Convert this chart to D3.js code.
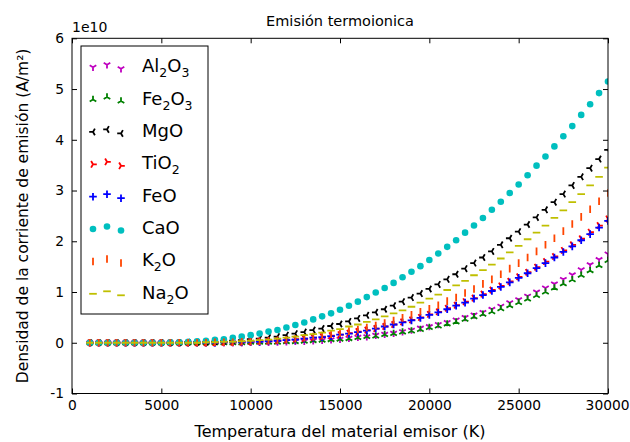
<!DOCTYPE html>
<html>
<head>
<meta charset="utf-8">
<script src="https://cdn.jsdelivr.net/npm/d3@7"></script>
<style>
body { margin: 0; background: #fff; }
svg { display: block; font-family: "DejaVu Sans", sans-serif; }
</style>
</head>
<body>
<svg></svg>
<script>
// Thermionic emission current density vs temperature (values in units of 1e10 A/m^2)

var temps = [1000, 1500, 2000, 2500, 3000, 3500, 4000, 4500, 5000, 5500,
    6000, 6500, 7000, 7500, 8000, 8500, 9000, 9500, 10000, 10500,
    11000, 11500, 12000, 12500, 13000, 13500, 14000, 14500, 15000, 15500,
    16000, 16500, 17000, 17500, 18000, 18500, 19000, 19500, 20000, 20500,
    21000, 21500, 22000, 22500, 23000, 23500, 24000, 24500, 25000, 25500,
    26000, 26500, 27000, 27500, 28000, 28500, 29000, 29500, 30000]

var al2o3 = [0, 0, 0, 0, 0, 0, 0, 0, 0, 0, 0, 0, 0, 0, 0, 0, 0, 0,
    0.01, 0.01, 0.01, 0.015, 0.02, 0.03, 0.03, 0.04, 0.05, 0.06, 0.07, 0.09,
    0.11, 0.12, 0.15, 0.17, 0.19, 0.22, 0.25, 0.29, 0.32, 0.36,
    0.40, 0.45, 0.50, 0.55, 0.60, 0.66, 0.72, 0.79, 0.85, 0.92,
    1.00, 1.08, 1.16, 1.25, 1.34, 1.44, 1.54, 1.64, 1.75]
var fe2o3 = [0, 0, 0, 0, 0, 0, 0, 0, 0, 0, 0, 0, 0, 0, 0, 0, 0, 0,
    0.01, 0.01, 0.01, 0.01, 0.02, 0.02, 0.03, 0.04, 0.05, 0.06, 0.07, 0.08,
    0.10, 0.12, 0.13, 0.16, 0.18, 0.21, 0.23, 0.26, 0.30, 0.33,
    0.37, 0.41, 0.46, 0.51, 0.56, 0.61, 0.67, 0.73, 0.79, 0.86,
    0.93, 1.00, 1.08, 1.16, 1.24, 1.33, 1.42, 1.52, 1.62]
var mgo = [0, 0, 0, 0, 0, 0, 0, 0, 0, 0, 0, 0.01, 0.01, 0.01, 0.02, 0.03, 0.04, 0.05,
    0.07, 0.08, 0.10, 0.12, 0.15, 0.18, 0.21, 0.25, 0.28, 0.33, 0.37, 0.42,
    0.48, 0.54, 0.60, 0.66, 0.73, 0.81, 0.89, 0.97, 1.06, 1.15,
    1.25, 1.35, 1.46, 1.57, 1.68, 1.80, 1.93, 2.06, 2.19, 2.33,
    2.47, 2.62, 2.77, 2.93, 3.10, 3.27, 3.44, 3.62, 3.80]
var tio2 = [0, 0, 0, 0, 0, 0, 0, 0, 0, 0, 0, 0, 0, 0, 0, 0.01, 0.01, 0.01,
    0.02, 0.03, 0.03, 0.04, 0.05, 0.07, 0.08, 0.10, 0.12, 0.14, 0.16, 0.19,
    0.22, 0.25, 0.28, 0.32, 0.36, 0.41, 0.45, 0.50, 0.56, 0.61,
    0.68, 0.74, 0.81, 0.88, 0.96, 1.04, 1.12, 1.21, 1.30, 1.39,
    1.49, 1.60, 1.70, 1.82, 1.93, 2.05, 2.18, 2.31, 2.44]
var feo = [0, 0, 0, 0, 0, 0, 0, 0, 0, 0, 0, 0, 0, 0, 0, 0.01, 0.01, 0.01,
    0.02, 0.02, 0.03, 0.04, 0.05, 0.06, 0.08, 0.10, 0.11, 0.13, 0.16, 0.18,
    0.21, 0.24, 0.28, 0.32, 0.36, 0.40, 0.44, 0.49, 0.55, 0.60,
    0.66, 0.73, 0.79, 0.87, 0.94, 1.02, 1.10, 1.19, 1.28, 1.37,
    1.47, 1.57, 1.68, 1.79, 1.90, 2.02, 2.14, 2.27, 2.40]
var cao = [0, 0, 0, 0, 0, 0, 0, 0, 0, 0.01, 0.01, 0.02, 0.03, 0.04, 0.06, 0.07, 0.10, 0.12,
    0.15, 0.18, 0.22, 0.25, 0.30, 0.35, 0.40, 0.46, 0.52, 0.58, 0.65, 0.73,
    0.81, 0.90, 0.99, 1.08, 1.18, 1.29, 1.40, 1.51, 1.63, 1.76,
    1.89, 2.02, 2.17, 2.31, 2.46, 2.62, 2.78, 2.95, 3.12, 3.30,
    3.49, 3.67, 3.87, 4.07, 4.27, 4.49, 4.70, 4.92, 5.15]
var k2o = [0, 0, 0, 0, 0, 0, 0, 0, 0, 0, 0, 0, 0, 0, 0.01, 0.01, 0.01, 0.02,
    0.02, 0.03, 0.04, 0.05, 0.06, 0.08, 0.10, 0.12, 0.14, 0.17, 0.19, 0.23,
    0.26, 0.30, 0.34, 0.39, 0.44, 0.49, 0.55, 0.61, 0.67, 0.74,
    0.82, 0.89, 0.98, 1.06, 1.16, 1.25, 1.35, 1.46, 1.57, 1.68,
    1.80, 1.93, 2.06, 2.20, 2.34, 2.48, 2.63, 2.79, 2.95]
var na2o = [0, 0, 0, 0, 0, 0, 0, 0, 0, 0, 0, 0, 0, 0.01, 0.01, 0.02, 0.02, 0.03,
    0.04, 0.05, 0.06, 0.08, 0.10, 0.12, 0.15, 0.17, 0.20, 0.24, 0.27, 0.32,
    0.36, 0.41, 0.46, 0.52, 0.58, 0.64, 0.71, 0.79, 0.87, 0.95,
    1.04, 1.13, 1.22, 1.33, 1.43, 1.54, 1.66, 1.78, 1.91, 2.04,
    2.17, 2.31, 2.46, 2.61, 2.77, 2.93, 3.10, 3.27, 3.45]

var seriesNames = ["Al2O3", "Fe2O3", "MgO", "TiO2", "FeO", "CaO", "K2O", "Na2O"]
var seriesValues = [al2o3, fe2o3, mgo, tio2, feo, cao, k2o, na2o]
var seriesColors = ["#bf00bf", "#008000", "#000000", "#ff0000", "#0000ff", "#00bfbf", "#ff4500", "#bfbf00"]
var seriesMarkers = ["triDown", "triUp", "triLeft", "triRight", "plus", "circle", "vline", "hline"]

var xTicks = [0, 5000, 10000, 15000, 20000, 25000, 30000]
var yTicks = [-1, 0, 1, 2, 3, 4, 5, 6]

var canvasSize = {width: 630, height: 442}
var plot = {left: 72, right: 608, top: 38.3, bottom: 393.5}

var svg = d3.select("svg")
    .attr("width", canvasSize.width)
    .attr("height", canvasSize.height)

svg.append("rect").attr("width", canvasSize.width).attr("height", canvasSize.height).attr("fill", "white")

var x = d3.scaleLinear().domain([0, 30000]).range([plot.left, plot.right])
var y = d3.scaleLinear().domain([-1, 6]).range([plot.bottom, plot.top])

// marker shapes, drawn as strokes around (0,0)
var r = 3.8
var markerPath = {
    triDown: `M0,0L0,${r}M0,0L${-0.866*r},${-0.5*r}M0,0L${0.866*r},${-0.5*r}`,
    triUp: `M0,0L0,${-r}M0,0L${-0.866*r},${0.5*r}M0,0L${0.866*r},${0.5*r}`,
    triLeft: `M0,0L${-r},0M0,0L${0.5*r},${-0.866*r}M0,0L${0.5*r},${0.866*r}`,
    triRight: `M0,0L${r},0M0,0L${-0.5*r},${-0.866*r}M0,0L${-0.5*r},${0.866*r}`,
    plus: `M${-r},0L${r},0M0,${-r}L0,${r}`,
    vline: `M0,${-r}L0,${r}`,
    hline: `M${-r},0L${r},0`,
    circle: d3.symbol(d3.symbolCircle, Math.PI * 3.3 * 3.3)()
}

function styleMarker(sel, i) {
    if (seriesMarkers[i] == "circle") {
        sel.attr("fill", seriesColors[i]).attr("stroke", "none")
    } else {
        sel.attr("fill", "none").attr("stroke", seriesColors[i]).attr("stroke-width", 1.8)
    }
}

svg.append("clipPath").attr("id", "clip")
    .append("rect")
    .attr("x", plot.left).attr("y", plot.top)
    .attr("width", plot.right - plot.left).attr("height", plot.bottom - plot.top)

var view = svg.append("g").attr("clip-path", "url(#clip)")

seriesNames.forEach((name, i) => {
    var pts = temps.map((t, j) => [t, seriesValues[i][j]])
    view.append("g").attr("class", "series-" + name)
        .selectAll("path")
        .data(pts)
        .join("path")
        .attr("transform", d => `translate(${x(d[0])},${y(d[1])})`)
        .attr("d", markerPath[seriesMarkers[i]])
        .call(styleMarker, i)
})

// axes: ticks point inward on all four sides
var bottomAxis = d3.axisBottom(x).tickValues(xTicks).tickFormat(d3.format("d"))
    .tickSizeInner(-5).tickSizeOuter(0).tickPadding(7)
var topAxis = d3.axisTop(x).tickValues(xTicks).tickFormat("")
    .tickSizeInner(-5).tickSizeOuter(0)
var leftAxis = d3.axisLeft(y).tickValues(yTicks).tickFormat(d => d < 0 ? "-" + Math.abs(d) : d)
    .tickSizeInner(-5).tickSizeOuter(0).tickPadding(8)
var rightAxis = d3.axisRight(y).tickValues(yTicks).tickFormat("")
    .tickSizeInner(-5).tickSizeOuter(0)

function drawAxis(axis, tx, ty) {
    var g = svg.append("g").attr("transform", `translate(${tx},${ty})`).call(axis)
    g.select(".domain").remove()
    g.selectAll("text").attr("font-size", 13.8).attr("font-family", "DejaVu Sans").attr("fill", "black")
    g.selectAll("line").attr("stroke", "black")
    return g
}
var xg = drawAxis(bottomAxis, 0, plot.bottom)
// keep the last label inside the canvas
xg.selectAll("text").filter(d => d == 30000).attr("text-anchor", "end").attr("x", 629 - plot.right)
drawAxis(topAxis, 0, plot.top)
drawAxis(leftAxis, plot.left, 0)
drawAxis(rightAxis, plot.right, 0)

svg.append("rect")
    .attr("x", plot.left).attr("y", plot.top)
    .attr("width", plot.right - plot.left).attr("height", plot.bottom - plot.top)
    .attr("fill", "none").attr("stroke", "black").attr("stroke-width", 1)

// offset text for the y axis
svg.append("text").attr("x", plot.left).attr("y", 31.5)
    .attr("font-size", 14).text("1e10")

svg.append("text").attr("x", (plot.left + plot.right) / 2).attr("y", 26)
    .attr("text-anchor", "middle").attr("font-size", 14.5)
    .text("Emisión termoionica")

svg.append("text").attr("x", (plot.left + plot.right) / 2).attr("y", 437)
    .attr("text-anchor", "middle").attr("font-size", 16)
    .text("Temperatura del material emisor (K)")

svg.append("text")
    .attr("transform", `translate(28,${(plot.top + plot.bottom) / 2}) rotate(-90)`)
    .attr("text-anchor", "middle").attr("font-size", 15.5)
    .text("Densidad de la corriente de emisión (A/m²)")

// legend
var legend = svg.append("g").attr("class", "legend")
legend.append("rect")
    .attr("x", 81).attr("y", 46).attr("width", 127).attr("height", 268)
    .attr("fill", "white").attr("stroke", "black").attr("stroke-width", 1)

var legendY = d3.scaleLinear().domain([0, 7]).range([65.7, 292.3])
var handleX = [93, 107, 121]
var handleDy = [1.5, -1, 3]

seriesNames.forEach((name, i) => {
    var cy = legendY(i)
    legend.append("g").selectAll("path")
        .data(handleX)
        .join("path")
        .attr("transform", (hx, k) => `translate(${hx},${cy + handleDy[k]})`)
        .attr("d", markerPath[seriesMarkers[i]])
        .call(styleMarker, i)

    var txt = legend.append("text").attr("x", 142).attr("y", cy + 6.5).attr("font-size", 18)
    // digits in the formula become subscripts
    var sub = false
    name.match(/\d+|\D+/g).forEach(part => {
        var isNum = /\d/.test(part)
        var ts = txt.append("tspan").text(part)
        if (isNum && !sub) { ts.attr("dy", 5).attr("font-size", 12.5); sub = true }
        else if (!isNum && sub) { ts.attr("dy", -5); sub = false }
        else if (isNum) ts.attr("font-size", 12.5)
    })
})
</script>
</body>
</html>
